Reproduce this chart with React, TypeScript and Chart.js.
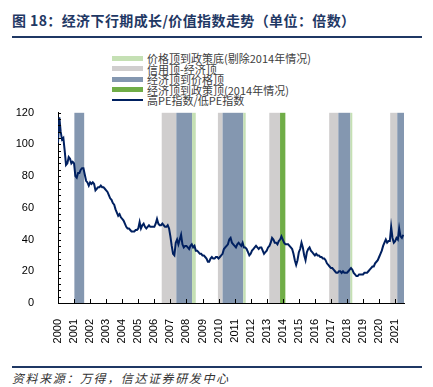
import { useEffect, useRef } from "react";
import { Chart, registerables } from "chart.js";

Chart.register(...registerables);

// ---- Data ----
const startYear = 2000; // monthly observations, first one is Jan 2000
const yearLabels = [2000, 2001, 2002, 2003, 2004, 2005, 2006, 2007, 2008, 2009, 2010, 2011, 2012, 2013, 2014, 2015, 2016, 2017, 2018, 2019, 2020, 2021];

const v2000 = [101, 117, 108, 103, 104, 96, 87, 88, 92, 91, 88, 89];
const v2001 = [88, 80, 79, 82, 82, 84, 85, 85, 81, 77, 76, 74];
const v2002 = [76, 75, 76, 75, 71, 72, 73, 73, 74, 73, 73, 72];
const v2003 = [71, 70, 68, 66, 65, 63, 62, 59, 57, 55, 56, 54];
const v2004 = [53, 52, 50, 48, 47, 47, 46, 45, 45, 45, 46, 46];
const v2005 = [47, 51, 47, 49, 50, 48, 47, 48, 49, 48, 48, 48];
const v2006 = [48, 50, 53, 50, 49, 49, 50, 49, 48, 48, 49, 47];
const v2007 = [42, 36, 31, 30, 38, 40, 37, 40, 43, 37, 35, 36];
const v2008 = [36, 35, 34, 36, 37, 35, 36, 33, 33, 32, 31, 31];
const v2009 = [30, 30, 29, 28, 26, 26, 28, 29, 28, 28, 29, 29];
const v2010 = [28, 29, 30, 31, 34, 35, 36, 37, 40, 41, 38, 37];
const v2011 = [36, 35, 37, 38, 37, 36, 38, 35, 35, 34, 32, 30];
const v2012 = [31, 33, 34, 35, 36, 35, 34, 35, 35, 33, 31, 32];
const v2013 = [33, 35, 36, 38, 41, 40, 38, 38, 37, 39, 40, 42];
const v2014 = [40, 38, 37, 37, 37, 36, 35, 34, 31, 27, 24, 27];
const v2015 = [32, 34, 38, 35, 30, 27, 32, 34, 35, 33, 32, 31];
const v2016 = [30, 31, 30, 30, 29, 29, 28, 28, 27, 25, 24, 23];
const v2017 = [22, 22, 21, 20, 19, 19, 20, 20, 19, 20, 19, 19];
const v2018 = [19, 20, 21, 22, 21, 19, 18, 17, 17, 18, 18, 18];
const v2019 = [18, 19, 19, 19, 20, 21, 22, 23, 23, 25, 26, 27];
const v2020 = [29, 31, 33, 36, 38, 40, 38, 39, 39, 48, 41, 38];
const v2021 = [39, 41, 40, 47, 42, 41, 43];

const ratioValues = [
  ...v2000, ...v2001, ...v2002, ...v2003, ...v2004, ...v2005, ...v2006,
  ...v2007, ...v2008, ...v2009, ...v2010, ...v2011, ...v2012, ...v2013,
  ...v2014, ...v2015, ...v2016, ...v2017, ...v2018, ...v2019, ...v2020, ...v2021,
];

// shaded periods [start, end] in decimal years
const priceTopToPolicyBottom = [[2008.35, 2008.58], [2011.54, 2011.69], [2018.21, 2018.33]];
const creditTopToEconTop = [[2006.46, 2007.37], [2009.96, 2010.25], [2013.16, 2013.83], [2016.89, 2017.46], [2020.69, 2021.13]];
const econTopToPriceTop = [[2001.02, 2001.63], [2007.37, 2008.35], [2010.25, 2011.54], [2017.46, 2018.21], [2021.13, 2021.6]];
const econTopToPolicyTop2014 = [[2013.83, 2014.16]];

const xMin = 2000;
const xMax = 2021.55;

const C_LIGHTGREEN = "#c5e0b4";
const C_GREY = "#d0cece";
const C_BLUE = "#8497b0";
const C_GREEN = "#70ad47";
const C_LINE = "#002060";
const C_NAVY = "#1f3864";

const bandGroups = [
  { color: C_GREY, bands: creditTopToEconTop },
  { color: C_BLUE, bands: econTopToPriceTop },
  { color: C_LIGHTGREEN, bands: priceTopToPolicyBottom },
  { color: C_GREEN, bands: econTopToPolicyTop2014 },
];

const legendItems = [
  { label: "价格顶到政策底(剔除2014年情况)", color: C_LIGHTGREEN, line: false },
  { label: "信用顶-经济顶", color: C_GREY, line: false },
  { label: "经济顶到价格顶", color: C_BLUE, line: false },
  { label: "经济顶到政策顶(2014年情况)", color: C_GREEN, line: false },
  { label: "高PE指数/低PE指数", color: C_LINE, line: true },
];

const bandPlugin = {
  id: "bands",
  beforeDatasetsDraw(chart: any) {
    const { ctx, chartArea, scales } = chart;
    const xs = scales.x;
    ctx.save();
    ctx.beginPath();
    ctx.rect(chartArea.left, chartArea.top, chartArea.right - chartArea.left, chartArea.bottom - chartArea.top);
    ctx.clip();
    for (const g of bandGroups) {
      ctx.fillStyle = g.color;
      for (const [a, b] of g.bands) {
        const x1 = xs.getPixelForValue(a);
        const x2 = xs.getPixelForValue(b);
        ctx.fillRect(x1, chartArea.top, x2 - x1, chartArea.bottom - chartArea.top);
      }
    }
    ctx.restore();
  },
};

const tickPlugin = {
  id: "inwardTicks",
  afterDraw(chart: any) {
    const { ctx, chartArea, scales } = chart;
    ctx.save();
    ctx.strokeStyle = "#000";
    ctx.lineWidth = 1;
    ctx.beginPath();
    for (let v = 0; v <= 120; v += 4) {
      const y = Math.round(scales.y.getPixelForValue(v)) + 0.5;
      ctx.moveTo(chartArea.left, y);
      ctx.lineTo(chartArea.left + 3, y);
    }
    for (const yr of yearLabels) {
      const x = Math.round(scales.x.getPixelForValue(yr)) + 0.5;
      ctx.moveTo(x, chartArea.bottom);
      ctx.lineTo(x, chartArea.bottom - 4);
    }
    ctx.stroke();
    ctx.restore();
  },
};

export default function App() {
  const canvasRef = useRef<HTMLCanvasElement | null>(null);

  useEffect(() => {
    if (!canvasRef.current) return;
    const points = ratioValues.map((v, i) => ({ x: startYear + i / 12, y: v }));
    const chart = new Chart(canvasRef.current, {
      type: "line",
      data: {
        datasets: [
          {
            label: "高PE指数/低PE指数",
            data: points,
            borderColor: C_LINE,
            borderWidth: 2,
            pointRadius: 0,
            tension: 0,
            fill: false,
          },
        ],
      },
      options: {
        animation: false,
        responsive: false,
        devicePixelRatio: 1,
        layout: { padding: { left: 0, right: 29, top: 8, bottom: 0 } },
        plugins: { legend: { display: false }, tooltip: { enabled: false } },
        scales: {
          x: {
            type: "linear",
            min: xMin,
            max: xMax,
            grid: { display: false },
            border: { display: true, color: "#000", width: 1 },
            afterBuildTicks: (s: any) => {
              s.ticks = yearLabels.map((v) => ({ value: v }));
            },
            afterFit: (s: any) => {
              s.height = 40;
            },
            ticks: {
              autoSkip: false,
              minRotation: 90,
              maxRotation: 90,
              padding: 8,
              color: "#000",
              font: { size: 11, family: "'Liberation Sans', Arial, sans-serif" },
              callback: (v: any) => String(v),
            },
          },
          y: {
            min: 0,
            max: 120,
            grid: { display: false },
            border: { display: true, color: "#000", width: 1 },
            afterFit: (s: any) => {
              s.width = 58;
            },
            ticks: {
              stepSize: 20,
              padding: 16,
              color: "#000",
              font: { size: 11, family: "'Liberation Sans', Arial, sans-serif" },
            },
          },
        },
      },
      plugins: [bandPlugin, tickPlugin],
    });
    return () => chart.destroy();
  }, []);

  const cjk = "'Noto Sans CJK SC', 'Noto Sans', sans-serif";

  return (
    <div style={{ position: "fixed", left: 0, top: 0, width: 433, height: 387, background: "#fff", overflow: "hidden" }}>
      <div
        style={{
          position: "absolute",
          left: 12,
          top: 11,
          fontFamily: cjk,
          fontWeight: 700,
          fontSize: 14,
          lineHeight: "18px",
          letterSpacing: "0.4px",
          color: C_NAVY,
          whiteSpace: "nowrap",
        }}
      >
        图 18：经济下行期成长/价值指数走势（单位：倍数）
      </div>
      <div style={{ position: "absolute", left: 12, top: 36, width: 410, height: 1.5, background: C_NAVY }} />

      {legendItems.map((it, i) => {
        const cy = 58 + 10.5 * i;
        return (
          <div key={i}>
            <div
              style={{
                position: "absolute",
                left: 112,
                top: cy - (it.line ? 1 : 2.5),
                width: 31,
                height: it.line ? 2 : 5,
                background: it.color,
              }}
            />
            <div
              style={{
                position: "absolute",
                left: 147,
                top: cy - 7,
                height: 14,
                lineHeight: "14px",
                fontFamily: cjk,
                fontSize: 11,
                color: "#404040",
                whiteSpace: "nowrap",
              }}
            >
              {it.label}
            </div>
          </div>
        );
      })}

      <canvas ref={canvasRef} width={433} height={253} style={{ position: "absolute", left: 0, top: 90, width: 433, height: 253 }} />

      <div style={{ position: "absolute", left: 12, top: 366, width: 410, height: 1.5, background: C_NAVY }} />
      <div
        style={{
          position: "absolute",
          left: 12,
          top: 370,
          fontFamily: cjk,
          fontSize: 12,
          lineHeight: "16px",
          fontStyle: "italic",
          letterSpacing: "1.6px",
          color: "#333",
          whiteSpace: "nowrap",
        }}
      >
        资料来源：万得，信达证券研发中心
      </div>
    </div>
  );
}
